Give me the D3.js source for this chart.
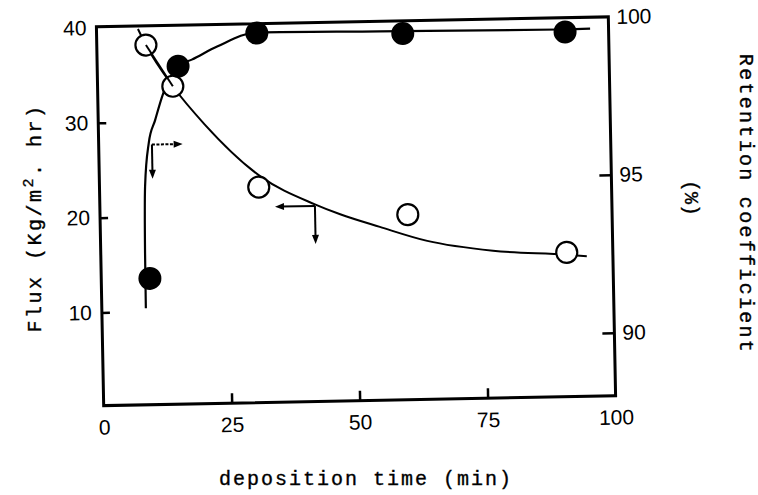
<!DOCTYPE html>
<html>
<head>
<meta charset="utf-8">
<script src="https://cdn.jsdelivr.net/npm/d3@7"></script>
<style>
    body { margin: 0; background: #fff; }
    svg { display: block; }
    .tick line { stroke: #000; stroke-width: 2.5px; }
    .tick text { font-family: "Liberation Sans", Arial, sans-serif; font-size: 21px; fill: #000; }
    .title { font-family: "Liberation Mono", "Courier New", monospace; font-size: 20px; fill: #000; stroke: #000; stroke-width: 0.35px; }
</style>
</head>
<body>
<svg id="chart" width="758" height="495"></svg>
<script>
// measured points, deposition time (min)
const fluxTime = [9.6, 14.7, 31.1, 60.1, 91.0];
const fluxValues = [38.1, 33.7, 22.9, 19.7, 15.4];            // Kg/m2.hr, left axis
const retentionTime = [9.5, 15.8, 31.3, 59.8, 91.5];
const retentionValues = [92.0, 98.7, 99.7, 99.6, 99.55];      // %, right axis

// hand drawn fit curves
const fluxCurveTime = [8.1, 9.6, 14.7, 20.8, 31.4, 42.0, 46.9, 54.6, 63.8, 76.6, 91.0, 94.9];
const fluxCurveValues = [39.8, 38.1, 33.7, 29.6, 24.05, 20.97, 19.87, 18.46, 16.89, 15.72, 15.15, 14.95];
const retentionCurveTime = [8.6, 8.65, 8.9, 9.8, 11.1, 12.8, 16.0, 18.5, 23.5, 31.3, 55.4, 91.5, 96.4];
const retentionCurveValues = [91.06, 92.8, 94.9, 96.3, 97.0, 97.85, 98.72, 98.9, 99.3, 99.72, 99.68, 99.63, 99.64];

// axis ticks
const timeTicks = [0, 25, 50, 75, 100];
const fluxTicks = [10, 20, 30, 40];
const retentionTicks = [90, 95, 100];

// "which axis" arrows, in time / flux units
const arrowTime = [10.4, 42.0];
const arrowFlux = [27.6, 20.8];
const arrowTipTime = [16.4, 34.2];
const arrowTipFlux = [24.0, 16.8];

const svg = d3.select("#chart");

const frame = { left: 100, right: 612, top: 21.75, bottom: 400.75 };

const x = d3.scaleLinear().domain([0, 100]).range([frame.left, frame.right]);
const yFlux = d3.scaleLinear().domain([0, 40]).range([402.5, 23]);
const yRet = d3.scaleLinear().domain([88, 100]).range([frame.bottom, frame.top]);

// the scan is tilted a little, so the whole plot is too
const plot = svg.append("g")
    .attr("transform", "rotate(-1.1, 356, 211.25)");

plot.append("rect")
    .attr("x", frame.left)
    .attr("y", frame.top)
    .attr("width", frame.right - frame.left)
    .attr("height", frame.bottom - frame.top)
    .attr("fill", "none")
    .attr("stroke", "#000")
    .attr("stroke-width", 3);

const xAxis = plot.append("g")
    .attr("transform", "translate(0," + frame.bottom + ")")
    .call(d3.axisBottom(x).tickValues(timeTicks).tickSizeInner(-10).tickSizeOuter(0).tickPadding(14));

const leftAxis = plot.append("g")
    .attr("transform", "translate(" + frame.left + ",0)")
    .call(d3.axisLeft(yFlux).tickValues(fluxTicks).tickSizeInner(-8).tickSizeOuter(0).tickPadding(10));

const rightAxis = plot.append("g")
    .attr("transform", "translate(" + frame.right + ",0)")
    .call(d3.axisRight(yRet).tickValues(retentionTicks).tickSizeInner(-12).tickSizeOuter(0).tickPadding(8));

[xAxis, leftAxis, rightAxis].forEach(a => a.select(".domain").remove());
// frame already draws the ticks at both ends
xAxis.selectAll(".tick line").filter(d => d === 0 || d === 100).remove();
leftAxis.selectAll(".tick line").filter(d => d === 40).remove();
rightAxis.selectAll(".tick line").filter(d => d === 100).remove();

// fit curves
const fluxLine = d3.line()
    .x(d => x(d[0]))
    .y(d => yFlux(d[1]))
    .curve(d3.curveMonotoneX);

const retLine = d3.line()
    .x(d => x(d[0]))
    .y(d => yRet(d[1]))
    .curve(d3.curveMonotoneX);

plot.append("path")
    .datum(d3.zip(fluxCurveTime, fluxCurveValues))
    .attr("d", fluxLine)
    .attr("fill", "none")
    .attr("stroke", "#000")
    .attr("stroke-width", 2);

plot.append("path")
    .datum(d3.zip(retentionCurveTime, retentionCurveValues))
    .attr("d", retLine)
    .attr("fill", "none")
    .attr("stroke", "#000")
    .attr("stroke-width", 2.2);

// markers
plot.selectAll("circle.flux")
    .data(d3.zip(fluxTime, fluxValues))
    .enter().append("circle")
    .attr("class", "flux")
    .attr("cx", d => x(d[0]))
    .attr("cy", d => yFlux(d[1]))
    .attr("r", 10.5)
    .attr("fill", "#fff")
    .attr("stroke", "#000")
    .attr("stroke-width", 2.2);

plot.selectAll("circle.ret")
    .data(d3.zip(retentionTime, retentionValues))
    .enter().append("circle")
    .attr("class", "ret")
    .attr("cx", d => x(d[0]))
    .attr("cy", d => yRet(d[1]))
    .attr("r", 11.5)
    .attr("fill", "#000");

// the flux line crosses over the open circle at 15 min
plot.append("path")
    .datum(d3.zip(fluxCurveTime, fluxCurveValues).slice(1, 3))
    .attr("d", fluxLine)
    .attr("fill", "none")
    .attr("stroke", "#000")
    .attr("stroke-width", 2);

// arrows
function arrowHead(tx, ty, dir) {
    // dir: unit vector of the arrow
    const len = 9, half = 3.5;
    const bx = tx - dir[0] * len, by = ty - dir[1] * len;
    const px = -dir[1] * half, py = dir[0] * half;
    return "M" + tx + "," + ty + "L" + (bx + px) + "," + (by + py) + "L" + (bx - px) + "," + (by - py) + "Z";
}

arrowTime.forEach(function (t, i) {
    const cx = x(t), cy = yFlux(arrowFlux[i]);
    const hx = x(arrowTipTime[i]), vy = yFlux(arrowTipFlux[i]);
    const hdir = hx > cx ? 1 : -1;

    plot.append("line")
        .attr("x1", cx).attr("y1", cy)
        .attr("x2", hx - hdir * 6).attr("y2", cy)
        .attr("stroke", "#000")
        .attr("stroke-width", 2)
        .attr("stroke-dasharray", i === 0 ? "3,1.5" : null);
    plot.append("path").attr("d", arrowHead(hx, cy, [hdir, 0])).attr("fill", "#000");

    plot.append("line")
        .attr("x1", cx).attr("y1", cy)
        .attr("x2", cx).attr("y2", vy - 6)
        .attr("stroke", "#000")
        .attr("stroke-width", 2);
    plot.append("path").attr("d", arrowHead(cx, vy, [0, 1])).attr("fill", "#000");
});

// axis titles
svg.append("text")
    .attr("class", "title")
    .attr("x", 366)
    .attr("y", 485)
    .attr("text-anchor", "middle")
    .attr("letter-spacing", 2)
    .text("deposition time (min)");

const fluxTitle = svg.append("text")
    .attr("class", "title")
    .attr("transform", "translate(41,218) rotate(-90)")
    .attr("text-anchor", "middle")
    .attr("letter-spacing", 2.5);
fluxTitle.append("tspan").text("Flux (Kg/m");
fluxTitle.append("tspan").attr("dy", -8).attr("font-size", 15).text("2");
fluxTitle.append("tspan").attr("dy", 8).text(". hr)");

svg.append("text")
    .attr("class", "title")
    .attr("transform", "translate(740,204) rotate(90)")
    .attr("text-anchor", "middle")
    .attr("font-size", 19)
    .attr("letter-spacing", 2.3)
    .text("Retention coefficient");

svg.append("text")
    .attr("class", "title")
    .attr("transform", "translate(685,198) rotate(90)")
    .attr("text-anchor", "middle")
    .text("(%)");
</script>
</body>
</html>
